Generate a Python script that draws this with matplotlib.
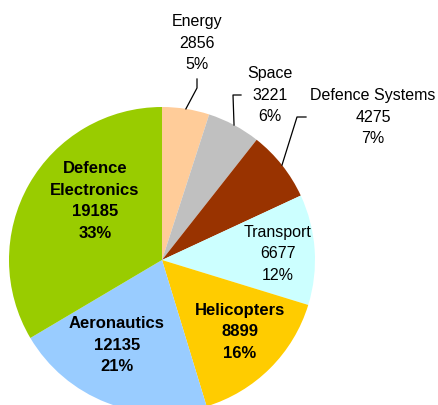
import numpy as np
import matplotlib
matplotlib.use("Agg")
import matplotlib.pyplot as plt

# Sales by division (figures and share of total)
divisions = ["Energy", "Space", "Defence Systems", "Transport",
             "Helicopters", "Aeronautics", "Defence\nElectronics"]
sales = [2856, 3221, 4275, 6677, 8899, 12135, 19185]
shares = [5, 6, 7, 12, 16, 21, 33]
colors = ["#FFCC99", "#C0C0C0", "#993300", "#CCFFFF",
          "#FFCC00", "#99CCFF", "#99CC00"]
bold = [False, False, False, False, True, True, True]

# label placement (pixel space, y up) and leader elbows for the outside labels
label_pos = [(197, 362), (270, 310), (373, 288), (278, 151),
             (240, 73), (117, 60), (95, 204)]
elbows = {0: [(197, 326), (197, 317)],
          1: [(241, 310), (233, 310)],
          2: [(306, 288), (297, 288)]}

plt.rcParams["font.family"] = ["Liberation Sans", "DejaVu Sans"]

fig = plt.figure(figsize=(4.39, 4.05), dpi=100)
ax = fig.add_axes([0, 0, 1, 1])

cx, cy, r = 162, 145, 153
wedges, _ = ax.pie(sales, colors=colors, startangle=90, counterclock=False,
                   center=(cx, cy), radius=r,
                   wedgeprops=dict(linewidth=0))

for i, w in enumerate(wedges):
    txt = f"{divisions[i]}\n{sales[i]}\n{shares[i]}%"
    x, y = label_pos[i]
    ax.text(x, y, txt, ha="center", va="center", linespacing=1.55,
            fontsize=12 if bold[i] else 11.5,
            fontweight="bold" if bold[i] else "normal", color="black")
    if i in elbows:
        mid = np.deg2rad((w.theta1 + w.theta2) / 2)
        ex, ey = cx + r * np.cos(mid), cy + r * np.sin(mid)
        pts = elbows[i] + [(ex, ey)]
        ax.plot([p[0] for p in pts], [p[1] for p in pts],
                color="black", linewidth=0.9)

ax.set_xlim(0, 439)
ax.set_ylim(0, 405)
ax.set_aspect("auto")
ax.axis("off")

fig.savefig("out.png", dpi=100)
